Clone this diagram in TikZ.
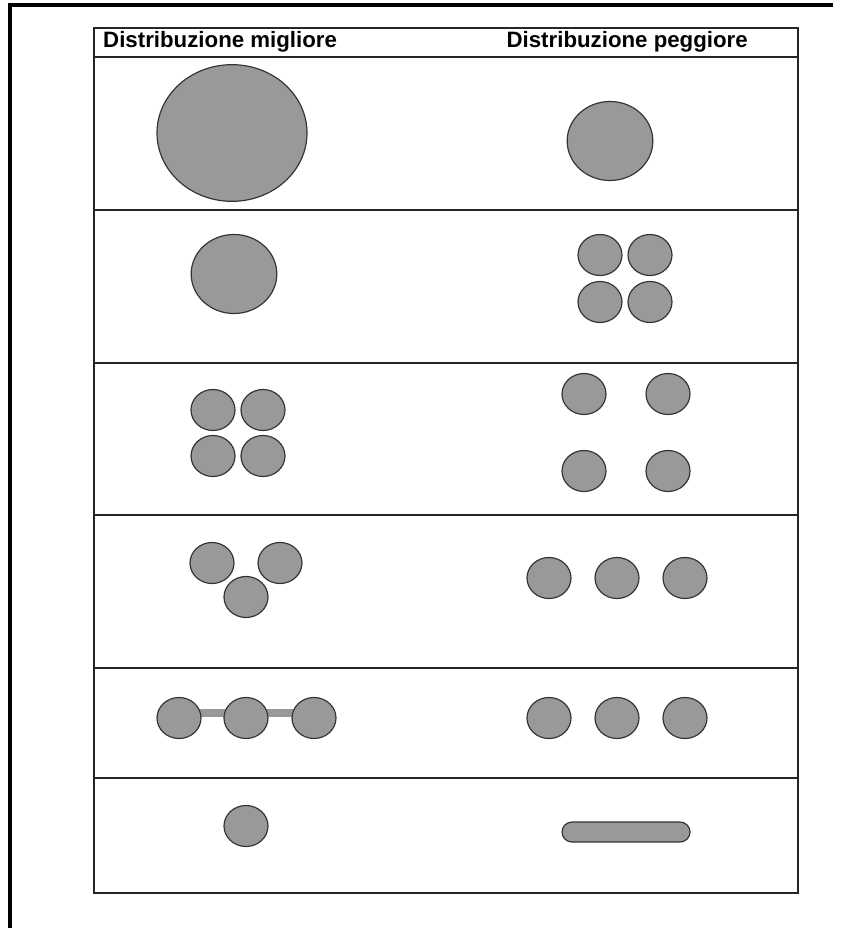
\documentclass[tikz,border=0pt]{standalone}
\usepackage{fontspec}
\newfontfamily\headfont{Liberation Sans}
\usetikzlibrary{shapes.geometric,backgrounds}
\definecolor{dotfill}{HTML}{999999}
\definecolor{dotline}{HTML}{333333}
\begin{document}
\begin{tikzpicture}[x=0.03cm,y=-0.03cm,
  tabline/.style={line width=1.1pt,black!85},
  head/.style={inner sep=0pt,font=\headfont\bfseries\fontsize{19}{22}\selectfont},
  dot/.style={ellipse,draw=dotline,fill=dotfill,line width=1pt,inner sep=0pt,minimum width=1.32cm,minimum height=1.23cm},
  middot/.style={dot,minimum width=2.57cm,minimum height=2.37cm},
  bigdot/.style={dot,minimum width=4.5cm,minimum height=4.1cm},
  pill/.style={draw=dotline,fill=dotfill,line width=1pt,rounded corners=0.3cm,minimum width=3.84cm,minimum height=0.6cm,inner sep=0pt},
  bar/.style={dotfill,line width=0.24cm}]
\useasboundingbox (0,0) rectangle (842,928);
% outer frame (left and top only)
\draw[line width=2.6pt] (10,928) -- (10,5) -- (833,5);
% table
\draw[tabline] (94,28) rectangle (798,893);
\foreach \y in {57,210,363,515,668,778} \draw[tabline] (94,\y) -- (798,\y);
\node[head,anchor=base west] (hbest) at (103,48) {Distribuzione migliore};
\node[head,anchor=base east] (hworst) at (748,48) {Distribuzione peggiore};
% row 1
\node[bigdot] (l1) at (232,133) {};
\node[middot] (r1) at (610,141) {};
% row 2
\node[middot] (l2) at (234,274) {};
\node[dot] (r2a) at (600,255) {};
\node[dot] (r2b) at (650,255) {};
\node[dot] (r2c) at (600,302) {};
\node[dot] (r2d) at (650,302) {};
% row 3
\node[dot] (l3a) at (213,410) {};
\node[dot] (l3b) at (263,410) {};
\node[dot] (l3c) at (213,456) {};
\node[dot] (l3d) at (263,456) {};
\node[dot] (r3a) at (584,394) {};
\node[dot] (r3b) at (668,394) {};
\node[dot] (r3c) at (584,471) {};
\node[dot] (r3d) at (668,471) {};
% row 4
\node[dot] (l4a) at (212,563) {};
\node[dot] (l4b) at (280,563) {};
\node[dot] (l4c) at (246,597) {};
\node[dot] (r4a) at (549,578) {};
\node[dot] (r4b) at (617,578) {};
\node[dot] (r4c) at (685,578) {};
% row 5
\node[dot] (l5a) at (179,718) {};
\node[dot] (l5b) at (246,718) {};
\node[dot] (l5c) at (314,718) {};
\node[dot] (r5a) at (549,718) {};
\node[dot] (r5b) at (617,718) {};
\node[dot] (r5c) at (685,718) {};
\begin{scope}[on background layer]
\draw[bar] ([yshift=0.15cm]l5a.center) -- ([yshift=0.15cm]l5b.center);
\draw[bar] ([yshift=0.15cm]l5b.center) -- ([yshift=0.15cm]l5c.center);
\end{scope}
% row 6
\node[dot] (l6) at (246,826) {};
\node[pill] (r6) at (626,832) {};
\end{tikzpicture}
\end{document}
